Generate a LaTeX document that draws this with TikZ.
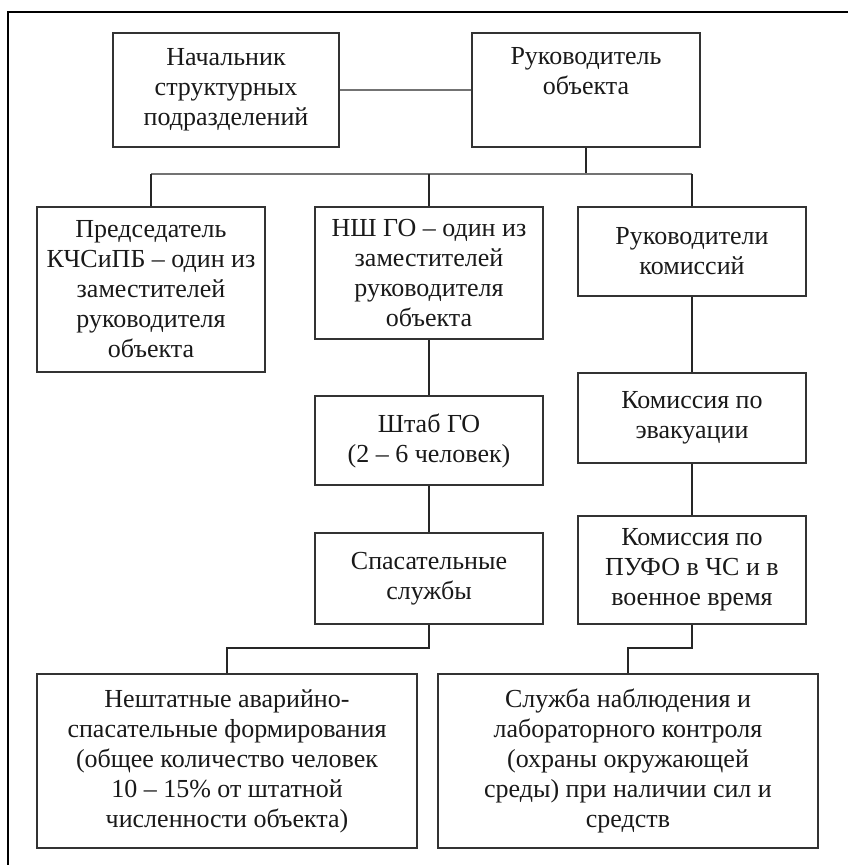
\documentclass[tikz,border=0pt]{standalone}
\usepackage{fontspec}
\setmainfont{Liberation Serif}
\begin{document}
\begin{tikzpicture}[x=1pt,y=-1pt,
  box/.style={draw=black!80, line width=1.3pt, rectangle, align=center, inner sep=0pt,
    font=\fontsize{26}{30}\selectfont, text=black!90},
  conn/.style={draw=black!85, line width=1.2pt},
  busline/.style={draw=black!55, line width=2.2pt},
  frameline/.style={draw=black, line width=2.6pt}]
\useasboundingbox (0,0) rectangle (848,865);
\draw[frameline] (8,865) -- (8,12) -- (848,12);

\node[box, minimum width=226pt, minimum height=114pt] (b1) at (226,90)
  {Начальник\\структурных\\подразделений};
\node[box, minimum width=228pt, minimum height=114pt] (b2) at (586,90)
  {Руководитель\\объекта\\\strut};
\node[box, minimum width=228pt, minimum height=165pt] (b3) at (151,289.5)
  {Председатель\\КЧСиПБ – один из\\заместителей\\руководителя\\объекта};
\node[box, minimum width=228pt, minimum height=132pt] (b4) at (429,273)
  {НШ ГО – один из\\заместителей\\руководителя\\объекта};
\node[box, minimum width=228pt, minimum height=89pt] (b5) at (692,251.5)
  {Руководители\\комиссий};
\node[box, minimum width=228pt, minimum height=89pt] (b6) at (429,440.5)
  {Штаб ГО\\(2 – 6 человек)};
\node[box, minimum width=228pt, minimum height=91pt] (b7) at (429,578.5)
  {Спасательные\\службы};
\node[box, minimum width=228pt, minimum height=90pt] (b8) at (692,418)
  {Комиссия по\\эвакуации};
\node[box, minimum width=228pt, minimum height=108pt] (b9) at (692,570)
  {Комиссия по\\ПУФО в ЧС и в\\военное время};
\node[box, minimum width=380pt, minimum height=174pt] (b10) at (227,761)
  {Нештатные аварийно-\\спасательные формирования\\(общее количество человек\\10 – 15\% от штатной\\численности объекта)};
\node[box, minimum width=380pt, minimum height=174pt] (b11) at (628,761)
  {Служба наблюдения и\\лабораторного контроля\\(охраны окружающей\\среды) при наличии сил и\\средств};

\coordinate (bus) at (586,174);
\coordinate (e1) at (0,648);

\draw[busline] (b1.east) -- (b2.west);
\draw[conn] (b2.south) -- (bus);
\draw[busline] (b3.north |- bus) -- (b5.north |- bus);
\draw[conn] (b3.north |- bus) -- (b3.north);
\draw[conn] (b4.north |- bus) -- (b4.north);
\draw[conn] (b5.north |- bus) -- (b5.north);
\draw[conn] (b4.south) -- (b6.north);
\draw[conn] (b6.south) -- (b7.north);
\draw[conn] (b5.south) -- (b8.north);
\draw[conn] (b8.south) -- (b9.north);
\draw[conn] (b7.south) -- (b7.south |- e1) -| (b10.north);
\draw[conn] (b9.south) -- (b9.south |- e1) -| (b11.north);
\end{tikzpicture}
\end{document}
